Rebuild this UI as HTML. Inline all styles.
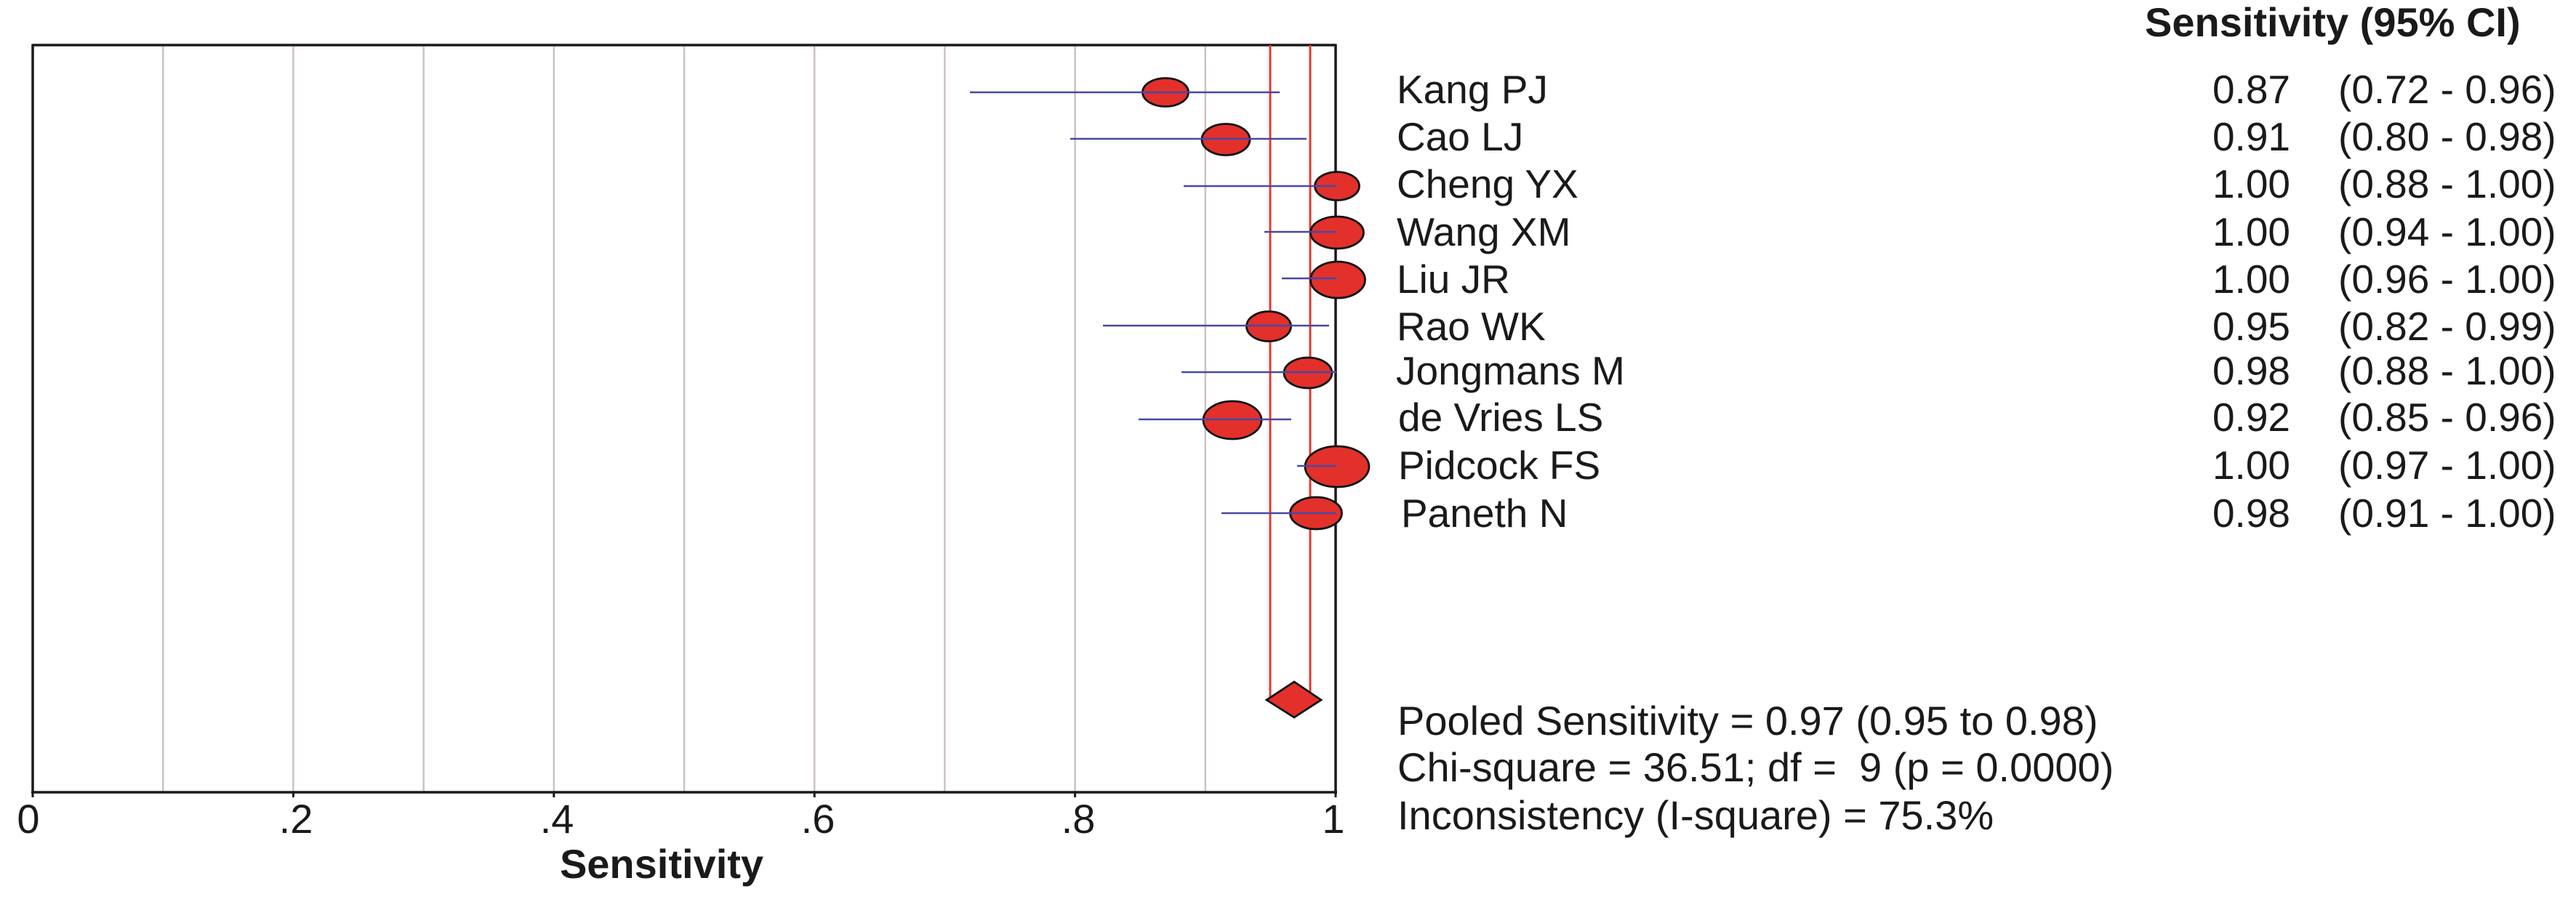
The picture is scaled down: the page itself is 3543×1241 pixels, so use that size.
<!DOCTYPE html>
<html>
<head>
<meta charset="utf-8">
<style>
  html, body { margin: 0; padding: 0; background: #ffffff; }
  svg { display: block; }
  text { font-family: "Liberation Sans", Arial, sans-serif; fill: #1a1a1a; }
</style>
</head>
<body>
<svg width="3543" height="1241" viewBox="0 0 3543 1241" xmlns="http://www.w3.org/2000/svg">
  <rect x="0" y="0" width="3543" height="1241" fill="#ffffff"/>

  <!-- gridlines -->
  <g stroke="#cbc2c1" stroke-width="2.5">
    <line x1="224.2" y1="62" x2="224.2" y2="1090"/>
    <line x1="403.4" y1="62" x2="403.4" y2="1090"/>
    <line x1="582.6" y1="62" x2="582.6" y2="1090"/>
    <line x1="761.8" y1="62" x2="761.8" y2="1090"/>
    <line x1="941" y1="62" x2="941" y2="1090"/>
    <line x1="1120.2" y1="62" x2="1120.2" y2="1090"/>
    <line x1="1299.4" y1="62" x2="1299.4" y2="1090"/>
    <line x1="1478.6" y1="62" x2="1478.6" y2="1090"/>
    <line x1="1657.8" y1="62" x2="1657.8" y2="1090"/>
  </g>

  <!-- axes frame -->
  <g stroke="#1a1a1a" stroke-width="3.5" fill="none">
    <line x1="45" y1="62" x2="1837" y2="62"/>
    <line x1="45" y1="60.5" x2="45" y2="1092"/>
    <line x1="1837" y1="60.5" x2="1837" y2="1092"/>
    <line x1="43" y1="1090" x2="1839" y2="1090"/>
  </g>
  <!-- tick marks -->
  <g stroke="#1a1a1a" stroke-width="3">
    <line x1="45" y1="1090" x2="45" y2="1097"/>
    <line x1="403.4" y1="1090" x2="403.4" y2="1097"/>
    <line x1="761.8" y1="1090" x2="761.8" y2="1097"/>
    <line x1="1120.2" y1="1090" x2="1120.2" y2="1097"/>
    <line x1="1478.6" y1="1090" x2="1478.6" y2="1097"/>
    <line x1="1837" y1="1090" x2="1837" y2="1097"/>
  </g>

  <!-- pooled CI red lines -->
  <g stroke="#e8382c" stroke-width="3">
    <line x1="1747" y1="62" x2="1747" y2="962"/>
    <line x1="1802" y1="62" x2="1802" y2="955"/>
  </g>

  <!-- study markers -->
  <g fill="#e3302b" stroke="#111111" stroke-width="2.8">
    <ellipse cx="1603" cy="127" rx="31.5" ry="19.5"/>
    <ellipse cx="1686" cy="192" rx="33" ry="21.5"/>
    <ellipse cx="1839" cy="256" rx="30.5" ry="19.5"/>
    <ellipse cx="1839" cy="320" rx="36.5" ry="22"/>
    <ellipse cx="1840" cy="385" rx="37.5" ry="25"/>
    <ellipse cx="1745" cy="449" rx="30.5" ry="20.5"/>
    <ellipse cx="1799" cy="513" rx="33" ry="21"/>
    <ellipse cx="1695" cy="578" rx="40" ry="26"/>
    <ellipse cx="1839" cy="642" rx="44" ry="28"/>
    <ellipse cx="1810" cy="706" rx="35.5" ry="22"/>
  </g>

  <!-- CI lines -->
  <g stroke="#4848a4" stroke-width="2.6">
    <line x1="1334" y1="127" x2="1760" y2="127"/>
    <line x1="1472" y1="191" x2="1797" y2="191"/>
    <line x1="1628" y1="256" x2="1838" y2="256"/>
    <line x1="1739" y1="319" x2="1838" y2="319"/>
    <line x1="1763" y1="383" x2="1838" y2="383"/>
    <line x1="1517" y1="448" x2="1828" y2="448"/>
    <line x1="1625" y1="512" x2="1838" y2="512"/>
    <line x1="1566" y1="577" x2="1776" y2="577"/>
    <line x1="1784" y1="641" x2="1838" y2="641"/>
    <line x1="1680" y1="706" x2="1838" y2="706"/>
  </g>

  <!-- pooled diamond -->
  <polygon points="1742,963 1780,938 1817,963 1780,987" fill="#e3302b" stroke="#111111" stroke-width="2.8"/>

  <!-- tick labels -->
  <g font-size="56" text-anchor="middle">
    <text x="39" y="1146">0</text>
    <text x="407" y="1146">.2</text>
    <text x="766" y="1146">.4</text>
    <text x="1125" y="1146">.6</text>
    <text x="1483" y="1146">.8</text>
    <text x="1834" y="1146">1</text>
  </g>
  <text x="910" y="1208" font-size="56" font-weight="bold" text-anchor="middle">Sensitivity</text>

  <!-- header -->
  <text x="2950" y="50" font-size="56" font-weight="bold">Sensitivity (95% CI)</text>

  <!-- study names -->
  <g font-size="55">
    <text x="1921" y="142">Kang PJ</text>
    <text x="1921" y="207">Cao LJ</text>
    <text x="1921" y="272">Cheng YX</text>
    <text x="1921" y="338">Wang XM</text>
    <text x="1921" y="403">Liu JR</text>
    <text x="1921" y="468">Rao WK</text>
    <text x="1920" y="529">Jongmans M</text>
    <text x="1923" y="593">de Vries LS</text>
    <text x="1923" y="659">Pidcock FS</text>
    <text x="1927" y="725">Paneth N</text>
  </g>

  <!-- values -->
  <g font-size="55" text-anchor="end">
    <text x="3150" y="142">0.87</text>
    <text x="3150" y="207">0.91</text>
    <text x="3150" y="272">1.00</text>
    <text x="3150" y="338">1.00</text>
    <text x="3150" y="403">1.00</text>
    <text x="3150" y="468">0.95</text>
    <text x="3150" y="529">0.98</text>
    <text x="3150" y="593">0.92</text>
    <text x="3150" y="659">1.00</text>
    <text x="3150" y="725">0.98</text>
  </g>
  <g font-size="55">
    <text x="3216" y="142">(0.72 - 0.96)</text>
    <text x="3216" y="207">(0.80 - 0.98)</text>
    <text x="3216" y="272">(0.88 - 1.00)</text>
    <text x="3216" y="338">(0.94 - 1.00)</text>
    <text x="3216" y="403">(0.96 - 1.00)</text>
    <text x="3216" y="468">(0.82 - 0.99)</text>
    <text x="3216" y="529">(0.88 - 1.00)</text>
    <text x="3216" y="593">(0.85 - 0.96)</text>
    <text x="3216" y="659">(0.97 - 1.00)</text>
    <text x="3216" y="725">(0.91 - 1.00)</text>
  </g>

  <!-- summary stats -->
  <g font-size="56" style="white-space:pre">
    <text x="1922" y="1011">Pooled Sensitivity = 0.97 (0.95 to 0.98)</text>
    <text x="1922" y="1075" xml:space="preserve">Chi-square = 36.51; df =  9 (p = 0.0000)</text>
    <text x="1922" y="1141">Inconsistency (I-square) = 75.3%</text>
  </g>
</svg>
</body>
</html>
